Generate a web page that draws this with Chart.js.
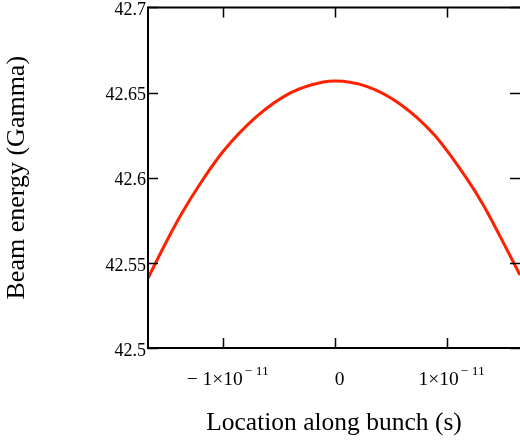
<!DOCTYPE html>
<html>
<head>
<meta charset="utf-8">
<script src="https://cdn.jsdelivr.net/npm/chart.js@4"></script>
<style>
  html, body { margin: 0; padding: 0; background: #ffffff; }
  #wrap { width: 520px; height: 442px; }
</style>
</head>
<body>
<div id="wrap"><canvas id="myChartBeam"></canvas></div>
<script>
// values (x in units of 1e-11 s)
const positionE11 = [-1.667, -1.518, -1.37, -1.203, -0.995, -0.696, -0.399, -0.102, 0.003,
    0.291, 0.589, 0.887, 1.184, 1.327, 1.476, 1.655];
const energyGamma = [42.541, 42.5605, 42.5785, 42.5963, 42.6155, 42.636, 42.6497, 42.6562, 42.6568,
    42.6535, 42.643, 42.6253, 42.599, 42.584, 42.5657, 42.5428];

const xTickValues = [-1e-11, 0, 1e-11];
const xTickBase = ['\u2212 1\u00d710', '0', '1\u00d710'];
const xTickExp = ['\u2212 11', '', '\u2212 11'];
const yTickValues = [42.5, 42.55, 42.6, 42.65, 42.7];
const yTickLabels = ['42.5', '42.55', '42.6', '42.65', '42.7'];

const points = positionE11.map((p, i) => ({ x: p * 1e-11, y: energyGamma[i] }));

// frame, inward tick marks, and x tick labels with superscript exponents
const frameTicks = {
    id: 'frameTicks',
    afterDraw(chart) {
        const { ctx, chartArea: a } = chart;
        const xs = chart.scales.x, ys = chart.scales.y;
        ctx.save();
        ctx.strokeStyle = '#000000';
        ctx.lineWidth = 2;
        ctx.beginPath();
        ctx.moveTo(chart.width, a.top);
        ctx.lineTo(a.left, a.top);
        ctx.lineTo(a.left, a.bottom);
        ctx.lineTo(chart.width, a.bottom);
        ctx.stroke();
        ctx.lineWidth = 1.5;
        ctx.beginPath();
        xTickValues.forEach(v => {
            const px = Math.round(xs.getPixelForValue(v)) + 0.5;
            ctx.moveTo(px, a.bottom); ctx.lineTo(px, a.bottom - 10);
            ctx.moveTo(px, a.top); ctx.lineTo(px, a.top + 10);
        });
        yTickValues.forEach(v => {
            const py = Math.round(ys.getPixelForValue(v)) + 0.5;
            ctx.moveTo(a.left, py); ctx.lineTo(a.left + 10, py);
            ctx.moveTo(a.right, py); ctx.lineTo(a.right - 10, py);
        });
        ctx.stroke();

        ctx.fillStyle = '#000000';
        ctx.textBaseline = 'alphabetic';
        ctx.textAlign = 'left';
        const baseFont = '19.5px "Liberation Serif"';
        const expFont = '13.5px "Liberation Serif"';
        xTickValues.forEach((v, i) => {
            ctx.font = baseFont;
            const wb = ctx.measureText(xTickBase[i]).width;
            ctx.font = expFont;
            const we = xTickExp[i] ? ctx.measureText(xTickExp[i]).width + 2 : 0;
            const cx = xs.getPixelForValue(v) + 5;
            const x0 = cx - (wb + we) / 2;
            const yb = a.bottom + 37;
            ctx.font = baseFont;
            ctx.fillText(xTickBase[i], x0, yb);
            if (xTickExp[i]) {
                ctx.font = expFont;
                ctx.fillText(xTickExp[i], x0 + wb + 2, yb - 10);
            }
        });
        ctx.restore();
    }
};

const ctxBeam = document.getElementById('myChartBeam');

new Chart(ctxBeam, {
    type: 'line',
    data: {
        datasets: [{
            label: 'Beam energy',
            data: points,
            borderColor: '#ff2000',
            borderWidth: 3,
            pointRadius: 0,
            cubicInterpolationMode: 'monotone',
            fill: false
        }]
    },
    options: {
        responsive: true,
        maintainAspectRatio: false,
        animation: false,
        layout: {
            padding: { top: 7, right: 0, left: 0, bottom: 0 }
        },
        scales: {
            x: {
                type: 'linear',
                min: -1.667e-11,
                max: 1.655e-11,
                afterBuildTicks: s => { s.ticks = xTickValues.map(v => ({ value: v })); },
                afterFit: s => { s.height = 94; },
                ticks: { display: false },
                grid: { display: false, drawTicks: false },
                border: { display: false },
                title: {
                    display: true,
                    text: 'Location along bunch (s)',
                    color: '#000000',
                    font: { family: 'Liberation Serif', size: 25.5 },
                    padding: { top: 0, bottom: 3 }
                }
            },
            y: {
                min: 42.5,
                max: 42.7,
                afterBuildTicks: s => { s.ticks = yTickValues.map(v => ({ value: v })); },
                afterFit: s => { s.width = 148; },
                ticks: {
                    autoSkip: false,
                    padding: 2,
                    labelOffset: 3,
                    color: '#000000',
                    font: { family: 'Liberation Serif', size: 18, lineHeight: 0.6 },
                    callback: (v, i) => yTickLabels[i]
                },
                grid: { display: false, drawTicks: false },
                border: { display: false },
                title: {
                    display: true,
                    text: 'Beam energy (Gamma)',
                    color: '#000000',
                    font: { family: 'Liberation Serif', size: 26 },
                    padding: { top: 2, bottom: 0 }
                }
            }
        },
        plugins: {
            legend: { display: false },
            tooltip: { enabled: false }
        }
    },
    plugins: [frameTicks]
});
</script>
</body>
</html>
